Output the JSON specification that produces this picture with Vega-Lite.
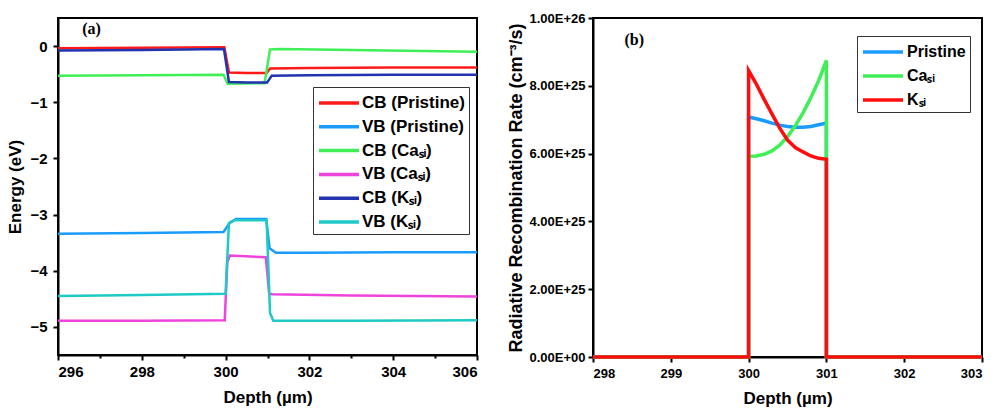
{
  "$schema": "https://vega.github.io/schema/vega-lite/v6.json",
  "background": "white",
  "padding": {"left": 5, "top": 11, "right": 5, "bottom": 5},
  "spacing": 23,
  "config": {
    "font": "Liberation Sans",
    "view": {"stroke": "black", "strokeWidth": 2},
    "axis": {
      "grid": false,
      "labelFont": "Liberation Sans",
      "labelFontWeight": "bold",
      "labelColor": "black",
      "titleFont": "Liberation Sans",
      "titleFontWeight": "bold",
      "titleColor": "black",
      "domainColor": "black",
      "domainWidth": 2,
      "tickColor": "black",
      "tickWidth": 2
    },
    "legend": {
      "orient": "none",
      "title": null,
      "symbolType": "M-1,0H3",
      "symbolStrokeWidth": 3.5,
      "symbolSize": 400,
      "labelFont": "Liberation Sans",
      "labelFontWeight": "bold",
      "labelColor": "black",
      "labelLimit": 400,
      "strokeColor": "#333333",
      "fillColor": "white",
      "padding": 4,
      "labelOffset": 21
    }
  },
  "resolve": {
    "scale": {"x": "independent", "y": "independent", "color": "independent"},
    "legend": {"color": "independent"}
  },
  "hconcat": [
    {
      "width": 419,
      "height": 337,
      "layer": [
        {
          "data": {
            "values": [
              {"depth": 296, "energy": -0.04, "band": "CB (Pristine)"},
              {"depth": 298, "energy": -0.03, "band": "CB (Pristine)"},
              {"depth": 299.97, "energy": -0.02, "band": "CB (Pristine)"},
              {"depth": 300.08, "energy": -0.47, "band": "CB (Pristine)"},
              {"depth": 300.5, "energy": -0.48, "band": "CB (Pristine)"},
              {"depth": 300.98, "energy": -0.48, "band": "CB (Pristine)"},
              {"depth": 301.06, "energy": -0.4, "band": "CB (Pristine)"},
              {"depth": 302, "energy": -0.39, "band": "CB (Pristine)"},
              {"depth": 304, "energy": -0.38, "band": "CB (Pristine)"},
              {"depth": 306, "energy": -0.38, "band": "CB (Pristine)"},

              {"depth": 296, "energy": -3.34, "band": "VB (Pristine)"},
              {"depth": 298, "energy": -3.33, "band": "VB (Pristine)"},
              {"depth": 299.95, "energy": -3.31, "band": "VB (Pristine)"},
              {"depth": 300.1, "energy": -3.15, "band": "VB (Pristine)"},
              {"depth": 300.25, "energy": -3.08, "band": "VB (Pristine)"},
              {"depth": 300.97, "energy": -3.08, "band": "VB (Pristine)"},
              {"depth": 301.05, "energy": -3.6, "band": "VB (Pristine)"},
              {"depth": 301.2, "energy": -3.68, "band": "VB (Pristine)"},
              {"depth": 302, "energy": -3.68, "band": "VB (Pristine)"},
              {"depth": 304, "energy": -3.67, "band": "VB (Pristine)"},
              {"depth": 306, "energy": -3.67, "band": "VB (Pristine)"},

              {"depth": 296, "energy": -0.53, "band": "CB (Caₛᵢ)"},
              {"depth": 298, "energy": -0.52, "band": "CB (Caₛᵢ)"},
              {"depth": 299.95, "energy": -0.51, "band": "CB (Caₛᵢ)"},
              {"depth": 300.05, "energy": -0.67, "band": "CB (Caₛᵢ)"},
              {"depth": 300.93, "energy": -0.66, "band": "CB (Caₛᵢ)"},
              {"depth": 301.06, "energy": -0.06, "band": "CB (Caₛᵢ)"},
              {"depth": 301.3, "energy": -0.05, "band": "CB (Caₛᵢ)"},
              {"depth": 303, "energy": -0.07, "band": "CB (Caₛᵢ)"},
              {"depth": 306, "energy": -0.1, "band": "CB (Caₛᵢ)"},

              {"depth": 296, "energy": -4.89, "band": "VB (Caₛᵢ)"},
              {"depth": 298, "energy": -4.89, "band": "VB (Caₛᵢ)"},
              {"depth": 299.98, "energy": -4.88, "band": "VB (Caₛᵢ)"},
              {"depth": 300.04, "energy": -3.85, "band": "VB (Caₛᵢ)"},
              {"depth": 300.1, "energy": -3.73, "band": "VB (Caₛᵢ)"},
              {"depth": 300.96, "energy": -3.76, "band": "VB (Caₛᵢ)"},
              {"depth": 301.04, "energy": -4.41, "band": "VB (Caₛᵢ)"},
              {"depth": 301.12, "energy": -4.42, "band": "VB (Caₛᵢ)"},
              {"depth": 303, "energy": -4.44, "band": "VB (Caₛᵢ)"},
              {"depth": 306, "energy": -4.46, "band": "VB (Caₛᵢ)"},

              {"depth": 296, "energy": -0.08, "band": "CB (Kₛᵢ)"},
              {"depth": 298, "energy": -0.07, "band": "CB (Kₛᵢ)"},
              {"depth": 299.96, "energy": -0.05, "band": "CB (Kₛᵢ)"},
              {"depth": 300.08, "energy": -0.64, "band": "CB (Kₛᵢ)"},
              {"depth": 300.5, "energy": -0.65, "band": "CB (Kₛᵢ)"},
              {"depth": 300.99, "energy": -0.65, "band": "CB (Kₛᵢ)"},
              {"depth": 301.1, "energy": -0.53, "band": "CB (Kₛᵢ)"},
              {"depth": 302, "energy": -0.52, "band": "CB (Kₛᵢ)"},
              {"depth": 304, "energy": -0.51, "band": "CB (Kₛᵢ)"},
              {"depth": 306, "energy": -0.51, "band": "CB (Kₛᵢ)"},

              {"depth": 296, "energy": -4.45, "band": "VB (Kₛᵢ)"},
              {"depth": 298, "energy": -4.43, "band": "VB (Kₛᵢ)"},
              {"depth": 300.0, "energy": -4.41, "band": "VB (Kₛᵢ)"},
              {"depth": 300.08, "energy": -3.15, "band": "VB (Kₛᵢ)"},
              {"depth": 300.2, "energy": -3.1, "band": "VB (Kₛᵢ)"},
              {"depth": 300.98, "energy": -3.1, "band": "VB (Kₛᵢ)"},
              {"depth": 301.06, "energy": -4.75, "band": "VB (Kₛᵢ)"},
              {"depth": 301.14, "energy": -4.89, "band": "VB (Kₛᵢ)"},
              {"depth": 303, "energy": -4.89, "band": "VB (Kₛᵢ)"},
              {"depth": 306, "energy": -4.88, "band": "VB (Kₛᵢ)"}
            ]
          },
          "mark": {"type": "line", "strokeWidth": 2.5},
          "encoding": {
            "x": {
              "field": "depth",
              "type": "quantitative",
              "scale": {"domain": [296, 306], "nice": false, "zero": false},
              "axis": {
                "title": "Depth (µm)",
                "values": [296, 297, 298, 299, 300, 301, 302, 303, 304, 305, 306],
                "format": ".0f",
                "labelExpr": "datum.value % 2 === 0 ? datum.label : ''",
                "tickSize": {"condition": {"test": "datum.value % 2 !== 0", "value": 3}, "value": 5},
                "labelFontSize": 15,
                "labelPadding": 4,
                "titleFontSize": 17,
                "titlePadding": 10
              }
            },
            "y": {
              "field": "energy",
              "type": "quantitative",
              "scale": {"domain": [-5.5, 0.5], "nice": false, "zero": false},
              "axis": {
                "title": "Energy (eV)",
                "values": [-5, -4.5, -4, -3.5, -3, -2.5, -2, -1.5, -1, -0.5, 0],
                "format": ".0f",
                "labelExpr": "datum.value % 1 === 0 ? datum.label : ''",
                "tickSize": {"condition": {"test": "datum.value % 1 !== 0", "value": 3}, "value": 5},
                "labelFontSize": 15,
                "labelPadding": 6,
                "titleFontSize": 17,
                "titlePadding": 5
              }
            },
            "color": {
              "field": "band",
              "type": "nominal",
              "scale": {
                "domain": ["CB (Pristine)", "VB (Pristine)", "CB (Caₛᵢ)", "VB (Caₛᵢ)", "CB (Kₛᵢ)", "VB (Kₛᵢ)"],
                "range": ["#ff1a1a", "#1a9cff", "#3fef55", "#ee44dd", "#2233b0", "#1ec9c6"]
              },
              "legend": {
                "legendX": 255,
                "legendY": 69,
                "labelFontSize": 17,
                "labelOffset": 21,
                "rowPadding": 3.8
              }
            }
          }
        },
        {
          "data": {"values": [{"tag": "(a)"}]},
          "mark": {"type": "text", "font": "Liberation Serif", "fontWeight": "bold", "fontSize": 16, "align": "center", "baseline": "middle", "color": "black"},
          "encoding": {
            "x": {"datum": 296.8},
            "y": {"datum": 0.3},
            "text": {"field": "tag"}
          }
        }
      ]
    },
    {
      "width": 389,
      "height": 339,
      "layer": [
        {
          "data": {
            "values": [
              {"i": 0, "depth": 298, "rate": 0, "sample": "Pristine"},
              {"i": 1, "depth": 300, "rate": 0, "sample": "Pristine"},
              {"i": 2, "depth": 300, "rate": 7.08e25, "sample": "Pristine"},
              {"i": 3, "depth": 300.1, "rate": 7.03e25, "sample": "Pristine"},
              {"i": 4, "depth": 300.2, "rate": 6.97e25, "sample": "Pristine"},
              {"i": 5, "depth": 300.3, "rate": 6.9e25, "sample": "Pristine"},
              {"i": 6, "depth": 300.4, "rate": 6.84e25, "sample": "Pristine"},
              {"i": 7, "depth": 300.5, "rate": 6.8e25, "sample": "Pristine"},
              {"i": 8, "depth": 300.6, "rate": 6.78e25, "sample": "Pristine"},
              {"i": 9, "depth": 300.7, "rate": 6.78e25, "sample": "Pristine"},
              {"i": 10, "depth": 300.8, "rate": 6.8e25, "sample": "Pristine"},
              {"i": 11, "depth": 300.9, "rate": 6.85e25, "sample": "Pristine"},
              {"i": 12, "depth": 301, "rate": 6.9e25, "sample": "Pristine"},
              {"i": 13, "depth": 301, "rate": 0, "sample": "Pristine"},
              {"i": 14, "depth": 303, "rate": 0, "sample": "Pristine"},

              {"i": 0, "depth": 298, "rate": 0, "sample": "Caₛᵢ"},
              {"i": 1, "depth": 300, "rate": 0, "sample": "Caₛᵢ"},
              {"i": 2, "depth": 300, "rate": 5.92e25, "sample": "Caₛᵢ"},
              {"i": 3, "depth": 300.1, "rate": 5.93e25, "sample": "Caₛᵢ"},
              {"i": 4, "depth": 300.2, "rate": 5.98e25, "sample": "Caₛᵢ"},
              {"i": 5, "depth": 300.3, "rate": 6.08e25, "sample": "Caₛᵢ"},
              {"i": 6, "depth": 300.4, "rate": 6.25e25, "sample": "Caₛᵢ"},
              {"i": 7, "depth": 300.5, "rate": 6.5e25, "sample": "Caₛᵢ"},
              {"i": 8, "depth": 300.6, "rate": 6.82e25, "sample": "Caₛᵢ"},
              {"i": 9, "depth": 300.7, "rate": 7.2e25, "sample": "Caₛᵢ"},
              {"i": 10, "depth": 300.8, "rate": 7.65e25, "sample": "Caₛᵢ"},
              {"i": 11, "depth": 300.9, "rate": 8.15e25, "sample": "Caₛᵢ"},
              {"i": 12, "depth": 301, "rate": 8.75e25, "sample": "Caₛᵢ"},
              {"i": 13, "depth": 301, "rate": 0, "sample": "Caₛᵢ"},
              {"i": 14, "depth": 303, "rate": 0, "sample": "Caₛᵢ"},

              {"i": 0, "depth": 298, "rate": 0, "sample": "Kₛᵢ"},
              {"i": 1, "depth": 300, "rate": 0, "sample": "Kₛᵢ"},
              {"i": 2, "depth": 300, "rate": 8.45e25, "sample": "Kₛᵢ"},
              {"i": 3, "depth": 300.1, "rate": 8.05e25, "sample": "Kₛᵢ"},
              {"i": 4, "depth": 300.2, "rate": 7.6e25, "sample": "Kₛᵢ"},
              {"i": 5, "depth": 300.3, "rate": 7.17e25, "sample": "Kₛᵢ"},
              {"i": 6, "depth": 300.4, "rate": 6.75e25, "sample": "Kₛᵢ"},
              {"i": 7, "depth": 300.5, "rate": 6.4e25, "sample": "Kₛᵢ"},
              {"i": 8, "depth": 300.6, "rate": 6.18e25, "sample": "Kₛᵢ"},
              {"i": 9, "depth": 300.7, "rate": 6.05e25, "sample": "Kₛᵢ"},
              {"i": 10, "depth": 300.8, "rate": 5.93e25, "sample": "Kₛᵢ"},
              {"i": 11, "depth": 300.9, "rate": 5.86e25, "sample": "Kₛᵢ"},
              {"i": 12, "depth": 301, "rate": 5.83e25, "sample": "Kₛᵢ"},
              {"i": 13, "depth": 301, "rate": 0, "sample": "Kₛᵢ"},
              {"i": 14, "depth": 303, "rate": 0, "sample": "Kₛᵢ"}
            ]
          },
          "mark": {"type": "line", "strokeWidth": 3.5},
          "encoding": {
            "x": {
              "field": "depth",
              "type": "quantitative",
              "scale": {"domain": [298, 303], "nice": false, "zero": false},
              "axis": {
                "title": "Depth (µm)",
                "values": [298, 298.5, 299, 299.5, 300, 300.5, 301, 301.5, 302, 302.5, 303],
                "format": ".0f",
                "labelExpr": "datum.value % 1 === 0 ? datum.label : ''",
                "tickSize": {"condition": {"test": "datum.value % 1 !== 0", "value": 3}, "value": 5},
                "labelFontSize": 13,
                "labelPadding": 5,
                "titleFontSize": 17,
                "titlePadding": 10
              }
            },
            "y": {
              "field": "rate",
              "type": "quantitative",
              "scale": {"domain": [0, 1e26], "nice": false},
              "axis": {
                "title": "Radiative Recombination Rate (cm⁻³/s)",
                "values": [0, 2e25, 4e25, 6e25, 8e25, 1e26],
                "labelExpr": "datum.value === 0 ? '0.00E+00' : upper(format(datum.value, '.2e'))",
                "tickSize": 5,
                "labelFontSize": 13,
                "labelPadding": 3,
                "titleFontSize": 18,
                "titlePadding": 3
              }
            },
            "order": {"field": "i", "type": "quantitative"},
            "color": {
              "field": "sample",
              "type": "nominal",
              "scale": {
                "domain": ["Pristine", "Caₛᵢ", "Kₛᵢ"],
                "range": ["#1a9cff", "#3fef55", "#ff0d0d"]
              },
              "legend": {
                "legendX": 264,
                "legendY": 18,
                "labelFontSize": 16,
                "labelOffset": 22,
                "rowPadding": 4
              }
            }
          }
        },
        {
          "data": {"values": [{"tag": "(b)"}]},
          "mark": {"type": "text", "font": "Liberation Serif", "fontWeight": "bold", "fontSize": 16, "align": "center", "baseline": "middle", "color": "black"},
          "encoding": {
            "x": {"datum": 298.53},
            "y": {"datum": 9.35e25},
            "text": {"field": "tag"}
          }
        }
      ]
    }
  ]
}
